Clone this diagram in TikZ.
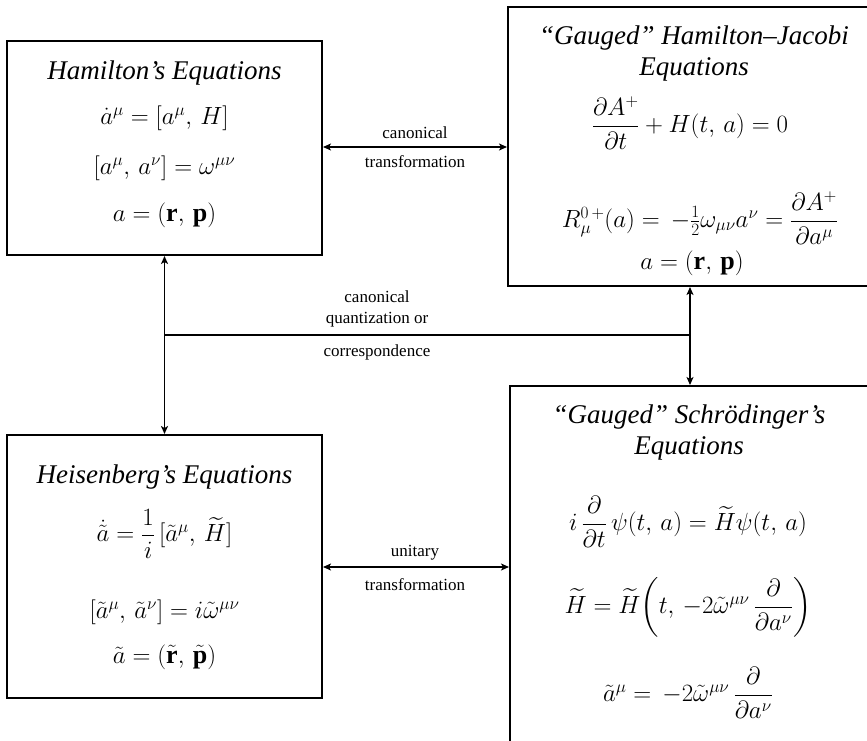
\documentclass[tikz,border=0pt]{standalone}
\usepackage{amsmath}
\usepackage{fontspec}
\setmainfont{Liberation Serif}
\usetikzlibrary{arrows.meta}
\begin{document}
\begin{tikzpicture}[x=1pt,y=-1pt,
  box/.style={draw,line width=2pt,inner sep=0pt},
  lbl/.style={font=\fontsize{17}{20}\selectfont,inner sep=1pt},
  ttl/.style={font=\fontsize{27}{31}\selectfont\itshape,align=center,inner sep=0pt},
  eq/.style={font=\fontsize{26}{30}\selectfont,inner sep=0pt},
  conn/.style={line width=1.5pt},
  tip/.tip={Stealth[length=8pt,width=7pt,inset=2pt]},
  arr/.style={conn,tip-tip}]
\useasboundingbox (0,0) rectangle (867,741);
\clip (0,0) rectangle (867,741);
\fill[white] (0,0) rectangle (867,741);

% boxes
\node[box,minimum width=315pt,minimum height=214pt] (ham) at (164.5,148) {};
\node[box,minimum width=364pt,minimum height=279pt] (hj) at (690,146.5) {};
\node[box,minimum width=315pt,minimum height=263pt] (heis) at (164.5,566.5) {};
\node[box,minimum width=360pt,minimum height=374pt] (schr) at (690,573) {};

% Hamilton
\node[ttl] (hamt) at (164.5,73) {Hamilton’s Equations};
\node[eq] (hame1) at (164.5,118) {$\dot a^\mu = [a^\mu,\, H]$};
\node[eq] (hame2) at (164.5,168) {$[a^\mu,\, a^\nu] = \omega^{\mu\nu}$};
\node[eq] (hame3) at (164.5,215) {$a = (\mathbf r,\, \mathbf p)$};

% Hamilton-Jacobi
\node[ttl] (hjt) at (694,54) {“Gauged” Hamilton–Jacobi\\Equations};
\node[eq] (hje1) at (690,123) {$\dfrac{\partial A^+}{\partial t} + H(t,\, a) = 0$};
\node[eq] (hje2) at (700,218) {$R^{0\,+}_\mu(a) = \,-\tfrac12\omega_{\mu\nu}a^\nu = \dfrac{\partial A^+}{\partial a^\mu}$};
\node[eq] (hje3) at (692,263) {$a = (\mathbf r,\, \mathbf p)$};

% Heisenberg
\node[ttl] (heist) at (164.5,477) {Heisenberg’s Equations};
\node[eq] (heise1) at (164.5,534) {$\dot{\tilde a} = \dfrac{1}{i}\,[\tilde a^\mu,\, \widetilde H]$};
\node[eq] (heise2) at (164.5,612) {$[\tilde a^\mu,\, \tilde a^\nu] = i\tilde\omega^{\mu\nu}$};
\node[eq] (heise3) at (164.5,657) {$\tilde a = (\tilde{\mathbf r},\, \tilde{\mathbf p})$};

% Schroedinger
\node[ttl] (schrt) at (689,433) {“Gauged” Schrödinger’s\\Equations};
\node[eq] (schre1) at (688,522) {$i\,\dfrac{\partial}{\partial t}\,\psi(t,\, a) = \widetilde H\psi(t,\, a)$};
\node[eq] (schre2) at (688,607) {$\widetilde H = \widetilde H\!\left(t,\, -2\tilde\omega^{\mu\nu}\,\dfrac{\partial}{\partial a^\nu}\right)$};
\node[eq] (schre3) at (688,693) {$\tilde a^\mu = \,-2\tilde\omega^{\mu\nu}\,\dfrac{\partial}{\partial a^\nu}$};

% connectors
\draw[arr] (ham.east |- 0,147) -- (hj.west |- 0,147);
\draw[arr] (heis.east |- 0,567) -- (schr.west |- 0,567);
\draw[arr] (ham.south) -- (heis.north);
\draw[arr] (hj.south) -- (schr.north);
\coordinate (jl) at (ham.south |- 0,335);
\coordinate (jr) at (hj.south |- 0,335);
\draw[conn] (jl) -- (jr);

% labels
\node[lbl] (l1) at (415,133) {canonical};
\node[lbl] (l2) at (415,162) {transformation};
\node[lbl] (l3) at (377,297) {canonical};
\node[lbl] (l4) at (377,320) {quantization or};
\node[lbl] (l5) at (377,352) {correspondence};
\node[lbl] (l6) at (415,553) {unitary};
\node[lbl] (l7) at (415,585) {transformation};
\end{tikzpicture}
\end{document}
